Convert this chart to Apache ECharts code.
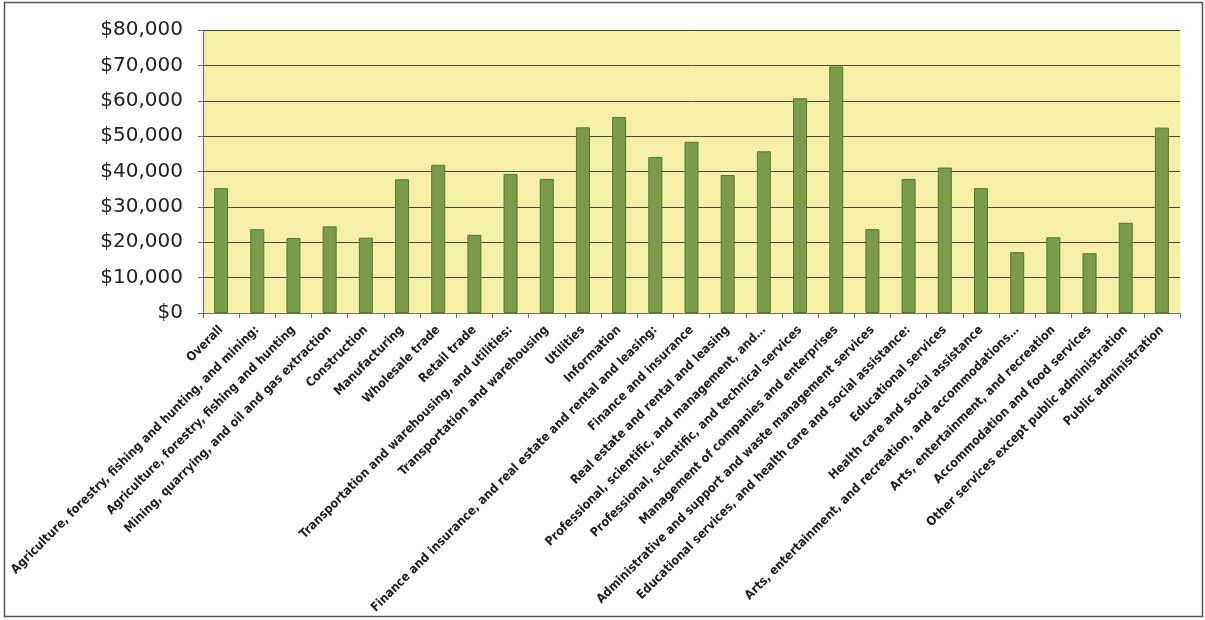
<!DOCTYPE html>
<html>
<head>
<meta charset="utf-8">
<script src="https://cdn.jsdelivr.net/npm/echarts@6/dist/echarts.min.js"></script>
<style>
  html, body { margin: 0; padding: 0; background: #ffffff; }
  #chart { width: 1205px; height: 620px; }
</style>
</head>
<body>
<div id="chart"></div>
<script>
const categories = [
  "Overall",
  "Agriculture, forestry, fishing and hunting, and mining:",
  "Agriculture, forestry, fishing and hunting",
  "Mining, quarrying, and oil and gas extraction",
  "Construction",
  "Manufacturing",
  "Wholesale trade",
  "Retail trade",
  "Transportation and warehousing, and utilities:",
  "Transportation and warehousing",
  "Utilities",
  "Information",
  "Finance and insurance, and real estate and rental and leasing:",
  "Finance and insurance",
  "Real estate and rental and leasing",
  "Professional, scientific, and management, and…",
  "Professional, scientific, and technical services",
  "Management of companies and enterprises",
  "Administrative and support and waste management services",
  "Educational services, and health care and social assistance:",
  "Educational services",
  "Health care and social assistance",
  "Arts, entertainment, and recreation, and accommodations…",
  "Arts, entertainment, and recreation",
  "Accommodation and food services",
  "Other services except public administration",
  "Public administration"
];

const earnings = [
  35300, 23700, 21200, 24500, 21300, 37800, 41900, 22100, 39300, 37900,
  52500, 55400, 44100, 48400, 39000, 45700, 60700, 69700, 23700, 37900,
  41100, 35300, 17200, 21400, 16900, 25500, 52400
];

const yMin = 0;
const yMax = 80000;
const yStep = 10000;

function dollar(v) {
  return '$' + Math.round(v).toString().replace(/\B(?=(\d{3})+(?!\d))/g, ',');
}

const chart = echarts.init(document.getElementById('chart'), null, { renderer: 'canvas' });

chart.setOption({
  animation: false,
  backgroundColor: '#ffffff',
  graphic: [{
    type: 'rect',
    shape: { x: 4.5, y: 2.5, width: 1198, height: 614 },
    style: { fill: 'none', stroke: '#555555', lineWidth: 1.5 },
    silent: true
  }],
  grid: {
    left: 203,
    right: 25,
    top: 30,
    bottom: 307,
    containLabel: false,
    outerBoundsMode: 'none',
    show: true,
    backgroundColor: '#f4f0a6',
    borderWidth: 0
  },
  xAxis: {
    type: 'category',
    data: categories,
    boundaryGap: true,
    axisLine: { show: true, lineStyle: { color: '#707070', width: 1 } },
    axisTick: { show: true, alignWithLabel: false, length: 5, lineStyle: { color: '#707070' } },
    axisLabel: {
      interval: 0,
      rotate: 45,
      margin: 15,
      fontFamily: '"Liberation Sans Narrow", "DejaVu Sans Condensed", sans-serif',
      fontSize: 12.5,
      fontWeight: 'bold',
      color: '#1e1e1e',
      padding: [12, 0, 0, 0]
    },
    splitLine: { show: false }
  },
  yAxis: {
    type: 'value',
    min: yMin,
    max: yMax,
    interval: yStep,
    axisLine: { show: true, lineStyle: { color: '#707070', width: 1 } },
    axisTick: { show: true, length: 5, lineStyle: { color: '#707070' } },
    axisLabel: {
      margin: 20,
      fontFamily: '"DejaVu Sans", sans-serif',
      fontSize: 20,
      color: '#222222',
      formatter: dollar
    },
    splitLine: { show: true, lineStyle: { color: '#4a4a3a', width: 1 } }
  },
  series: [{
    type: 'bar',
    data: earnings,
    barWidth: 14,
    itemStyle: {
      color: '#7b9a4a',
      borderColor: '#56782a',
      borderWidth: 1
    }
  }]
});
</script>
</body>
</html>
